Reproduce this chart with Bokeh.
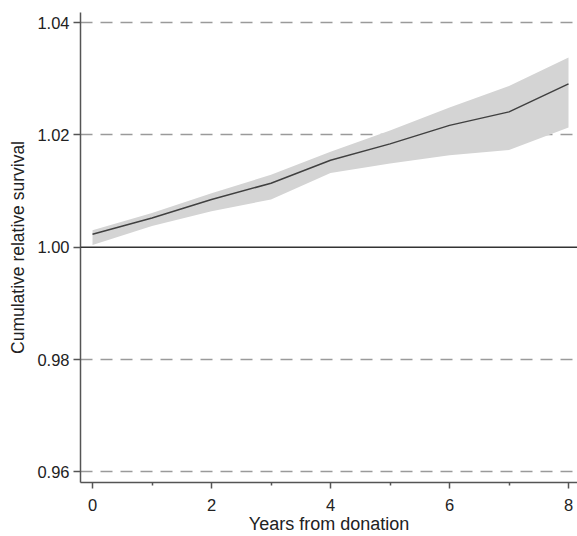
from bokeh.plotting import figure
from bokeh.models import FixedTicker, PrintfTickFormatter, Span, Range1d, ColumnDataSource
from bokeh.embed import file_html
from bokeh.resources import INLINE

years = [0, 1, 2, 3, 4, 5, 6, 7, 8]
survival = [1.0023, 1.0052, 1.0085, 1.0114, 1.0155, 1.0184, 1.0217, 1.0241, 1.0291]
upper_ci = [1.0030, 1.0061, 1.0096, 1.0129, 1.0170, 1.0208, 1.0249, 1.0287, 1.0338]
lower_ci = [1.0004, 1.0038, 1.0064, 1.0085, 1.0132, 1.0149, 1.0164, 1.0173, 1.0213]
y_ticks = [0.96, 0.98, 1.00, 1.02, 1.04]
x_ticks = [0, 2, 4, 6, 8]
x_minor = [1, 3, 5, 7]

src = ColumnDataSource(dict(x=years, y=survival, lo=lower_ci, hi=upper_ci))

p = figure(width=577, height=536, output_backend="svg", toolbar_location=None,
           x_range=Range1d(-0.2017, 8.151), y_range=Range1d(0.9581, 1.0418),
           min_border_left=80, min_border_right=0, min_border_top=12, min_border_bottom=49)
p.outline_line_color = None
p.background_fill_color = "white"
p.border_fill_color = "white"

p.varea(x="x", y1="lo", y2="hi", source=src, fill_color="#d4d4d4", fill_alpha=1.0)
p.line(x="x", y="y", source=src, line_color="#404040", line_width=1.5)

p.add_layout(Span(location=1.0, dimension="width", line_color="#333333", line_width=1.5))

font = "Liberation Sans"
p.xaxis.ticker = FixedTicker(ticks=x_ticks, minor_ticks=x_minor)
p.yaxis.ticker = FixedTicker(ticks=y_ticks)
p.yaxis.formatter = PrintfTickFormatter(format="%.2f")
p.xaxis.axis_label = "Years from donation"
p.yaxis.axis_label = "Cumulative relative survival"
for ax in (p.xaxis[0], p.yaxis[0]):
    ax.axis_line_color = "#555555"
    ax.axis_line_width = 1.5
    ax.major_tick_line_color = "#555555"
    ax.major_tick_line_width = 1.5
    ax.minor_tick_line_color = "#555555"
    ax.minor_tick_line_width = 1.5
    ax.major_tick_in = 0
    ax.minor_tick_in = 0
    ax.major_label_text_font = font
    ax.major_label_text_font_size = "16.5px"
    ax.major_label_text_color = "#222222"
    ax.axis_label_text_font = font
    ax.axis_label_text_font_style = "normal"
    ax.axis_label_text_color = "#222222"
p.xaxis.axis_label_text_font_size = "18px"
p.yaxis.axis_label_text_font_size = "17.5px"
p.xaxis.major_tick_out = 6
p.xaxis.minor_tick_out = 3
p.yaxis.major_tick_out = 7
p.yaxis.minor_tick_out = 0
p.xaxis.major_label_standoff = 10
p.yaxis.major_label_standoff = 4
p.xaxis.axis_label_standoff = 0
p.yaxis.axis_label_standoff = 6

p.xgrid.grid_line_color = None
p.ygrid.ticker = FixedTicker(ticks=[0.96, 0.98, 1.02, 1.04])
p.ygrid.grid_line_color = "#9a9a9a"
p.ygrid.grid_line_width = 1.5
p.ygrid.grid_line_dash = "12 8"

open("out.html", "w").write(file_html(p, INLINE))
